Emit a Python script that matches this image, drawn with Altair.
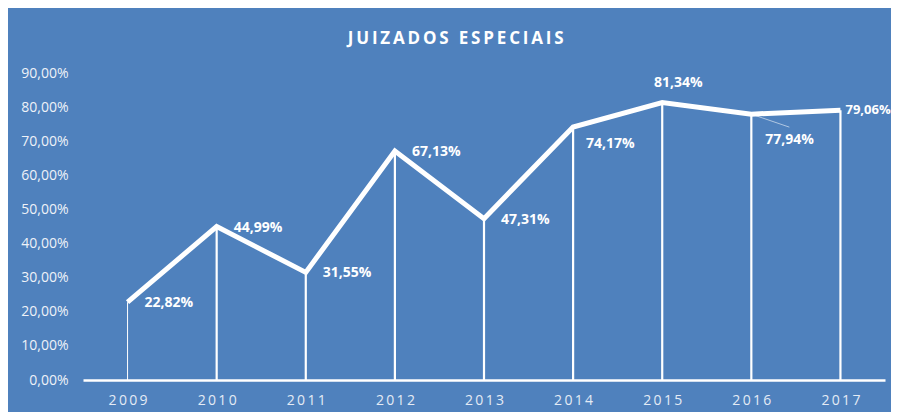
import altair as alt
import pandas as pd

years = ["2009", "2010", "2011", "2012", "2013", "2014", "2015", "2016", "2017"]
values = [22.82, 44.99, 31.55, 67.13, 47.31, 74.17, 81.34, 77.94, 79.06]
y_ticks = [0, 0.1, 0.2, 0.3, 0.4, 0.5, 0.6, 0.7, 0.8, 0.9]
title_text = "JUIZADOS ESPECIAIS"

df = pd.DataFrame({
    "year": years,
    "value": [v / 100 for v in values],
    "label": [f"{v:.2f}".replace(".", ",") + "%" for v in values],
})

FONT = "Open Sans"
BG = "#4f81bd"
THIN = "\u2009"

x_enc = alt.X(
    "year:N",
    sort=years,
    scale=alt.Scale(type="point", padding=0.5),
    axis=alt.Axis(
        title=None,
        ticks=False,
        domainColor="white",
        domainWidth=2.5,
        labelColor="#e4ebf5",
        labelFont=FONT,
        labelFontSize=14,
        labelPadding=13,
        labelAngle=0,
        labelExpr="join(split(datum.label, ''), '\u2009')",
        grid=False,
    ),
)
y_enc = alt.Y(
    "value:Q",
    scale=alt.Scale(domain=[0, 0.9], nice=False, zero=True),
    axis=alt.Axis(
        title=None,
        values=y_ticks,
        domain=False,
        ticks=False,
        grid=False,
        labelColor="#eef2f8",
        labelFont=FONT,
        labelFontSize=14,
        labelPadding=15,
        labelExpr="replace(format(datum.value, '.2%'), '.', ',')",
    ),
)

base = alt.Chart(df)


def only(yrs):
    return base.transform_filter(alt.FieldOneOfPredicate(field="year", oneOf=yrs))


drops = only(years[1:]).mark_rule(color="white", strokeWidth=2.2).encode(
    x=x_enc, y=y_enc, y2=alt.datum(0)
)
drop_first = only(years[:1]).mark_rule(color="white", strokeWidth=1).encode(
    x=x_enc, y=y_enc, y2=alt.datum(0)
)

line = base.mark_line(color="white", strokeWidth=5, strokeJoin="miter").encode(
    x=x_enc, y=y_enc
)

leader = only(["2016"]).mark_rule(
    color="white", opacity=0.55, strokeWidth=1, x2Offset=38, y2Offset=13
).encode(x=x_enc, x2="year:N", y=y_enc, y2="value:Q")


def labels(yrs, align, dx, dy, size=14):
    return only(yrs).mark_text(
        align=align, baseline="middle", dx=dx, dy=dy,
        font=FONT, fontSize=size, fontWeight="bold", color="white",
    ).encode(x=x_enc, y=y_enc, text="label:N")


text_layers = [
    labels(["2009", "2010", "2011", "2012", "2013"], "left", 17, 1),
    labels(["2017"], "left", 5, 0, 13),
    labels(["2014"], "left", 13, 17),
    labels(["2016"], "left", 14, 26),
    labels(["2015"], "center", 16, -20),
]

chart = alt.layer(drops, drop_first, line, leader, *text_layers).properties(
    width=802,
    height=307,
    background=BG,
    padding={"left": 75, "top": 65, "right": 6, "bottom": 32},
    autosize=alt.AutoSizeParams(type="none"),
    title=alt.TitleParams(
        THIN.join(list(title_text)),
        anchor="middle",
        frame="bounds",
        font=FONT,
        fontSize=17,
        fontWeight="bold",
        color="white",
        offset=18,
    ),
).configure_view(stroke=None)

chart.save("out.html", embed_options={"renderer": "svg", "actions": False})
